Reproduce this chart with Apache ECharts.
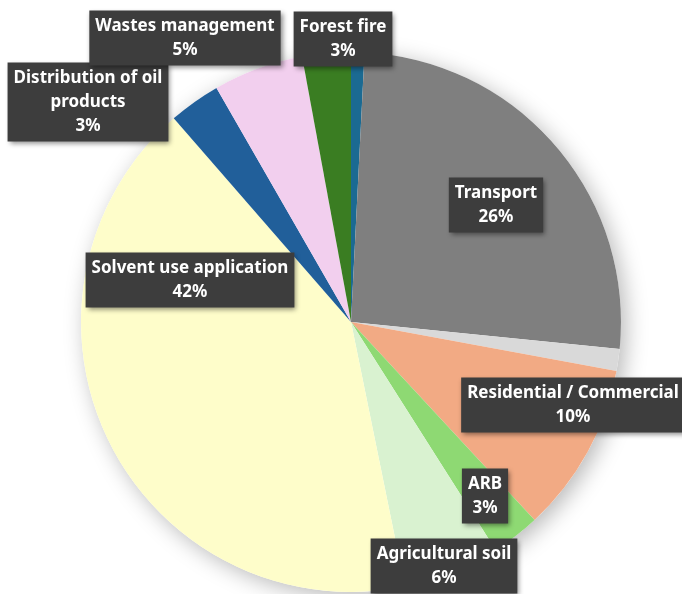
<!DOCTYPE html>
<html>
<head>
<meta charset="utf-8">
<script src="https://cdn.jsdelivr.net/npm/echarts@6/dist/echarts.min.js"></script>
<style>
  html, body { margin: 0; padding: 0; background: #ffffff; }
  #chart { width: 682px; height: 594px; }
</style>
</head>
<body>
<div id="chart"></div>
<script>
// Emission sources, listed clockwise from 12 o'clock
const categories = [
  'Other sources',
  'Transport',
  'Other combustion',
  'Residential / Commercial',
  'ARB',
  'Agricultural soil',
  'Solvent use application',
  'Distribution of oil\nproducts',
  'Wastes management',
  'Forest fire'
];
const shares = [0.8, 25.8, 1.3, 10.2, 2.9, 5.8, 41.8, 3.1, 5.4, 2.9];
const labelled = [false, true, false, true, true, true, true, true, true, true];

// Slice colours, same order as categories
const sliceColors = [
  '#1b6a92', '#7f7f7f', '#d9d9d9', '#f2aa84', '#8ed973',
  '#d9f2d0', '#fefdca', '#215f9a', '#f2cfee', '#3a7d22'
];
// Label box centres (px), same order as categories
const labelCentres = [
  null, [496, 205], null, [573, 405], [485, 496],
  [444, 566], [190, 280], [88, 102], [185, 38], [343, 39]
];

const chart = echarts.init(document.getElementById('chart'), null, { renderer: 'canvas' });

const centre = [351, 322];
const radius = 270;

chart.setOption({
  animation: false,
  backgroundColor: '#ffffff',
  series: [
    {
      // soft drop shadow under the whole pie
      type: 'pie',
      silent: true,
      center: centre,
      radius: radius,
      z: 1,
      label: { show: false },
      labelLine: { show: false },
      itemStyle: {
        color: '#ffffff',
        borderWidth: 0,
        shadowBlur: 22,
        shadowColor: 'rgba(0,0,0,0.28)',
        shadowOffsetX: 5,
        shadowOffsetY: 5
      },
      data: [1]
    },
    {
      type: 'pie',
      center: centre,
      radius: radius,
      startAngle: 90,
      clockwise: true,
      z: 2,
      avoidLabelOverlap: false,
      itemStyle: { borderWidth: 0 },
      emphasis: { disabled: true },
      labelLine: { show: false },
      label: {
        show: true,
        formatter: p => p.name + '\n' + Math.round(p.percent) + '%',
        fontFamily: 'Noto Sans',
        fontWeight: 'bold',
        fontSize: 17,
        lineHeight: 24,
        color: '#ffffff',
        align: 'center',
        backgroundColor: '#3d3d3d',
        padding: [4, 6, 3, 6],
        shadowBlur: 5,
        shadowColor: 'rgba(0,0,0,0.45)',
        shadowOffsetX: 2,
        shadowOffsetY: 2
      },
      labelLayout: p => {
        const c = labelCentres[p.dataIndex];
        if (!c) return {};
        return { x: c[0], y: c[1], align: 'center', verticalAlign: 'middle' };
      },
      data: categories.map((name, i) => ({
        name: name,
        value: shares[i],
        itemStyle: { color: sliceColors[i] },
        label: { show: labelled[i] }
      }))
    }
  ]
});
</script>
</body>
</html>
